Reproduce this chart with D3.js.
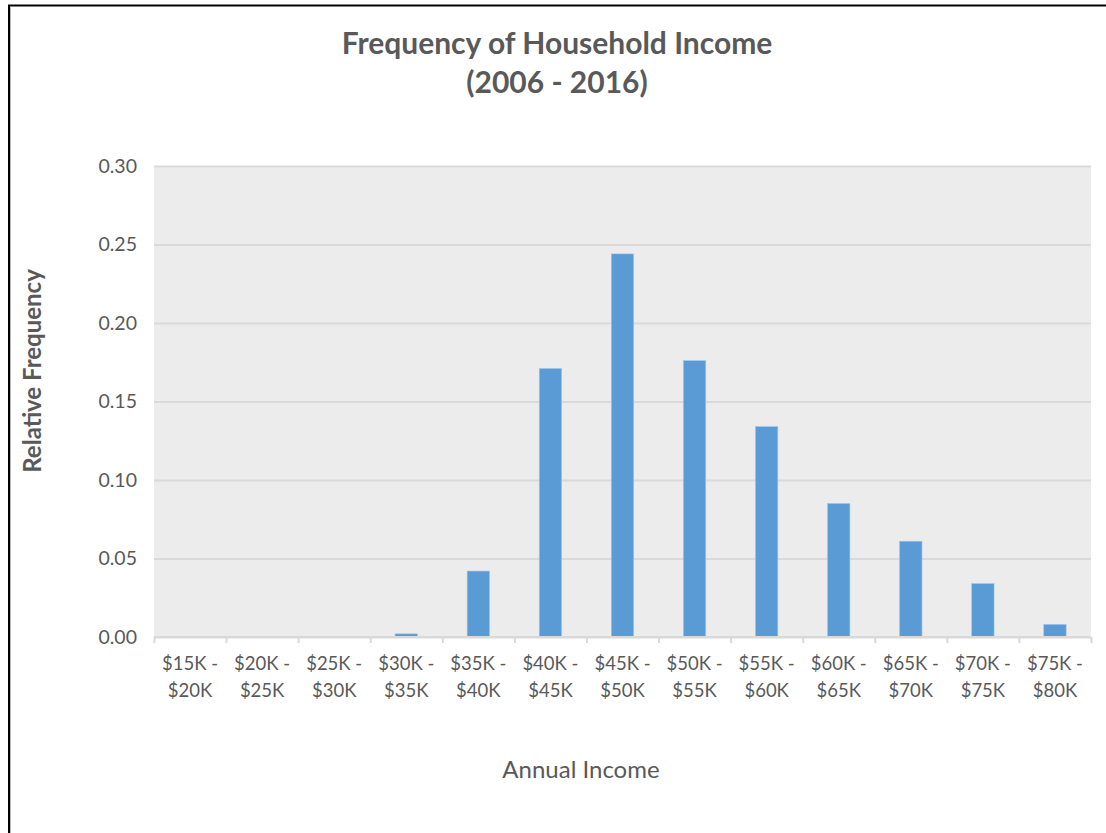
<!DOCTYPE html>
<html>
<head>
<meta charset="utf-8">
<title>Frequency of Household Income</title>
<script src="https://d3js.org/d3.v7.min.js"></script>
<style>
  body { margin: 0; background: #fff; }
  text { font-family: Lato, "Open Sans", sans-serif; fill: #595959; }
</style>
</head>
<body>
<script>

// data
var binLow = ["$15K", "$20K", "$25K", "$30K", "$35K", "$40K", "$45K", "$50K", "$55K", "$60K", "$65K", "$70K", "$75K"];
var binHigh = ["$20K", "$25K", "$30K", "$35K", "$40K", "$45K", "$50K", "$55K", "$60K", "$65K", "$70K", "$75K", "$80K"];
var relFreq = [0, 0, 0, 0.002, 0.042, 0.171, 0.244, 0.176, 0.134, 0.085, 0.061, 0.034, 0.008];
var yTicks = [0, 0.05, 0.10, 0.15, 0.20, 0.25, 0.30];

var width = 1106,
    height = 833;

var plot = {left: 154, right: 1091, top: 166, bottom: 637};

var svg = d3.select("body").append("svg")
    .attr("width", width)
    .attr("height", height);

// frame lines (top + left only, like the screenshot)
svg.append("line").attr("x1", 8).attr("x2", width).attr("y1", 5.5).attr("y2", 5.5)
    .attr("stroke", "#000").attr("stroke-width", 2);
svg.append("line").attr("x1", 9).attr("x2", 9).attr("y1", 5).attr("y2", height)
    .attr("stroke", "#000").attr("stroke-width", 2);
svg.append("line").attr("x1", 10.5).attr("x2", 10.5).attr("y1", 7).attr("y2", height)
    .attr("stroke", "#bbb").attr("stroke-width", 1);

var x = d3.scaleBand()
    .domain(d3.range(relFreq.length))
    .range([plot.left, plot.right])
    .paddingInner(0.69)
    .paddingOuter(0.345);

var xb = d3.scaleLinear()
    .domain([0, relFreq.length])
    .range([plot.left, plot.right]);

var y = d3.scaleLinear()
    .domain([0, 0.30])
    .range([plot.bottom, plot.top]);

// plot background
svg.append("rect")
    .attr("x", plot.left)
    .attr("y", plot.top)
    .attr("width", plot.right - plot.left)
    .attr("height", plot.bottom - plot.top)
    .attr("fill", "#ececec");

// grid + y labels
var yAxis = svg.append("g")
    .attr("transform", "translate(" + plot.left + ",0)")
    .call(d3.axisLeft(y).tickValues(yTicks).tickFormat(d3.format(".2f"))
        .tickSize(-(plot.right - plot.left)).tickPadding(17));
yAxis.select(".domain").remove();
yAxis.selectAll(".tick line").attr("stroke", "#d9d9d9").attr("stroke-width", 2);
yAxis.selectAll(".tick text").style("font-size", "19.5px").attr("fill", "#595959");

// bars
svg.selectAll(".bar")
    .data(relFreq)
    .enter().append("rect")
    .attr("class", "bar")
    .attr("x", function(d, i) { return x(i); })
    .attr("width", x.bandwidth())
    .attr("y", function(d) { return y(d); })
    .attr("height", function(d) { return y(0) - y(d); })
    .attr("fill", "#5b9bd5")
    .attr("stroke", "#9dc3e6")
    .attr("stroke-width", 0.6);

// x axis line + boundary ticks
var xAxis = svg.append("g")
    .attr("transform", "translate(0," + plot.bottom + ")")
    .call(d3.axisBottom(xb).tickValues(d3.range(relFreq.length + 1)).tickSize(6).tickFormat(""));
xAxis.select(".domain").attr("stroke", "#d9d9d9").attr("stroke-width", 2).attr("d", "M" + plot.left + ",0H" + plot.right);
xAxis.selectAll(".tick line").attr("stroke", "#d9d9d9").attr("stroke-width", 2);

// category labels on two lines
var cat = svg.append("g").selectAll("text")
    .data(binLow)
    .enter().append("text")
    .attr("text-anchor", "middle")
    .attr("x", function(d, i) { return x(i) + x.bandwidth() / 2; })
    .attr("y", 670)
    .style("font-size", "18.5px");
cat.append("tspan")
    .attr("x", function(d, i) { return x(i) + x.bandwidth() / 2; })
    .text(function(d) { return d + " -"; });
cat.append("tspan")
    .attr("x", function(d, i) { return x(i) + x.bandwidth() / 2; })
    .attr("dy", 27)
    .text(function(d, i) { return binHigh[i]; });

// titles
svg.append("text")
    .attr("x", 557).attr("y", 54)
    .attr("text-anchor", "middle")
    .style("font-size", "30px").style("font-weight", "bold")
    .text("Frequency of Household Income");
svg.append("text")
    .attr("x", 557).attr("y", 93)
    .attr("text-anchor", "middle")
    .style("font-size", "30px").style("font-weight", "bold")
    .text("(2006 - 2016)");

svg.append("text")
    .attr("transform", "translate(41,371) rotate(-90)")
    .attr("text-anchor", "middle")
    .style("font-size", "24px").style("font-weight", "bold")
    .text("Relative Frequency");

svg.append("text")
    .attr("x", 581).attr("y", 778)
    .attr("text-anchor", "middle")
    .style("font-size", "24px")
    .text("Annual Income");

</script>
</body>
</html>
